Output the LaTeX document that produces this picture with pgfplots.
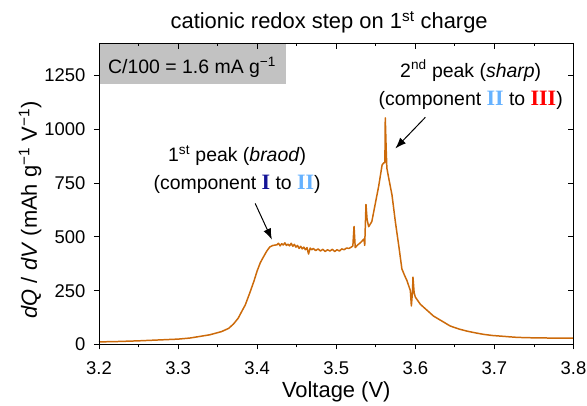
\documentclass[border=0pt]{standalone}
\usepackage{fontspec}
\setmainfont{Liberation Sans}
\newfontfamily\romanfont{Liberation Serif}
\usepackage{pgfplots}
\pgfplotsset{compat=1.18}
\usetikzlibrary{arrows.meta}
\definecolor{curve}{RGB}{204,106,10}
\definecolor{boxgray}{RGB}{194,194,194}
\definecolor{navyI}{RGB}{20,20,150}
\definecolor{lblue}{RGB}{102,178,255}
\definecolor{redIII}{RGB}{255,0,0}
\newcommand{\fs}[1]{\fontsize{#1}{#1}\selectfont}
\begin{document}
\begin{tikzpicture}
\begin{axis}[
  scale only axis,
  width=474.5bp, height=301.5bp,
  xmin=3.2, xmax=3.8, ymin=0, ymax=1400,
  xtick={3.2,3.3,...,3.8},
  minor xtick={3.25,3.35,3.45,3.55,3.65,3.75},
  ytick={0,250,500,750,1000,1250},
  xtick pos=left, ytick pos=left,
  tick align=outside,
  major tick length=5bp, minor tick length=3bp,
  every tick/.style={black, line width=0.9pt},
  axis line style={line width=0.9pt},
  xticklabel style={/pgf/number format/fixed, /pgf/number format/precision=1, /pgf/number format/fixed zerofill, font=\fs{18.5}, yshift=-9bp, inner xsep=0pt},
  yticklabel style={font=\fs{18.5}, /pgf/number format/1000 sep={}, xshift=-5bp},
  /pgf/number format/assume math mode=true,
  scaled y ticks=false,
  title={cationic redox step on 1\textsuperscript{st} charge},
  title style={font=\fs{22}, at={(axis description cs:0.485,1.027)}, anchor=base},
  xlabel={Voltage (V)},
  xlabel style={font=\fs{22}, at={(axis description cs:0.5,-0.1774)}, anchor=base},
  ylabel={\textit{dQ} / \textit{dV} (mAh g\textsuperscript{−1} V\textsuperscript{−1})},
  ylabel style={font=\fs{22}, at={(axis description cs:-0.1307,0.446)}, anchor=base, rotate=0},
  clip=true,
]
\fill[boxgray] (axis cs:3.2,1400) rectangle (axis cs:3.4363,1209);
\node[anchor=base west, font=\fs{19.5}, inner sep=0pt] at (axis cs:3.2114,1257) {C/100 = 1.6 mA g\textsuperscript{−1}};
\addplot[curve, line width=1.5pt, line join=round] coordinates {
(3.200,12) (3.225,14) (3.250,17) (3.275,21) (3.300,25) (3.315,30) (3.330,39)
(3.340,45) (3.347,52) (3.355,60) (3.364,75) (3.370,95) (3.376,122) (3.380,150)
(3.385,184) (3.391,243) (3.396,295) (3.400,342) (3.404,380) (3.408,407)
(3.412,433) (3.416,453) (3.420,460) (3.425,463)
(3.427,470) (3.429,458) (3.431,468) (3.433,462) (3.435,472) (3.437,460)
(3.439,466) (3.441,458) (3.443,470) (3.445,456) (3.447,465) (3.449,452)
(3.451,460) (3.453,446) (3.455,456) (3.457,444) (3.459,452) (3.461,440)
(3.463,450) (3.465,420) (3.467,448) (3.469,440) (3.471,446) (3.474,436)
(3.477,444) (3.480,434) (3.483,442) (3.486,432) (3.489,440) (3.492,434)
(3.495,442) (3.498,432) (3.501,440) (3.504,434) (3.507,444) (3.510,440)
(3.513,448) (3.516,446) (3.519,452) (3.521,458) (3.5225,548) (3.524,450)
(3.527,462) (3.531,474) (3.535,490) (3.536,460) (3.5376,650) (3.539,580)
(3.541,547) (3.545,571) (3.549,647) (3.5536,734) (3.558,834) (3.560,843)
(3.5615,845) (3.562,1052) (3.5632,900) (3.564,819) (3.567,760) (3.5705,694)
(3.5747,571) (3.579,460) (3.583,351) (3.5865,320) (3.5895,296) (3.5937,250)
(3.595,179) (3.5965,250) (3.597,313) (3.5985,240) (3.600,220) (3.6063,187)
(3.6105,173) (3.616,155) (3.623,132) (3.6275,122) (3.634,108) (3.644,86)
(3.655,72) (3.6654,62) (3.676,54) (3.6865,47) (3.697,42) (3.7076,39)
(3.718,36) (3.7287,33) (3.749,31) (3.770,30) (3.800,30)
};
\node[font=\fs{19.5}, anchor=base] at (axis cs:3.3747,848) {1\textsuperscript{st} peak (\textit{braod})};
\node[font=\fs{19.5}, anchor=base] at (axis cs:3.3747,718) {(component {\romanfont\bfseries\fs{22}\color{navyI}I} to {\romanfont\bfseries\fs{22}\color{lblue}II})};
\node[font=\fs{19.5}, anchor=base] at (axis cs:3.67,1242) {2\textsuperscript{nd} peak (\textit{sharp})};
\node[font=\fs{19.5}, anchor=base] at (axis cs:3.67,1110) {(component {\romanfont\bfseries\fs{22}\color{lblue}II} to {\romanfont\bfseries\fs{22}\color{redIII}III})};
\draw[-{Latex[length=11bp,width=8bp]}, line width=1pt] (axis cs:3.3975,655) -- (axis cs:3.4186,487);
\draw[-{Latex[length=11bp,width=8bp]}, line width=1pt] (axis cs:3.6127,1055) -- (axis cs:3.5747,910);
\end{axis}
\begin{axis}[
  scale only axis,
  width=474.5bp, height=301.5bp,
  xmin=3.2, xmax=3.8, ymin=0, ymax=1400,
  xtick={3.2,3.3,...,3.8},
  minor xtick={3.25,3.35,3.45,3.55,3.65,3.75},
  ytick={0,250,500,750,1000,1250},
  xtick pos=right, ytick pos=right,
  tick align=inside,
  major tick length=6bp, minor tick length=3.5bp,
  every tick/.style={black, line width=0.9pt},
  axis line style={line width=0.9pt},
  xticklabels={}, yticklabels={},
]
\addplot[draw=none] coordinates {(3.2,0)};
\end{axis}
\path (-99bp,-58.5bp) rectangle (488bp,344.5bp);
\end{tikzpicture}
\end{document}
